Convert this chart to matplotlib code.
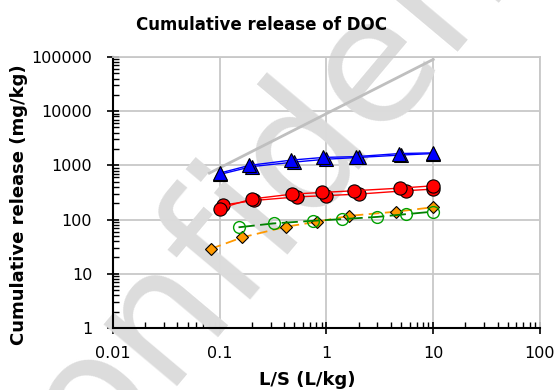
import numpy as np
import matplotlib
matplotlib.use("Agg")
import matplotlib.pyplot as plt
from matplotlib.ticker import LogLocator, FixedLocator, NullFormatter

# maximum possible release (gray reference line)
max_x = [0.08, 10]
max_y = [720, 90000]

# blue triangles, two replicates
blue_x1 = [0.1, 0.19, 0.47, 0.93, 1.9, 4.8, 10]
blue_y1 = [720, 1000, 1250, 1400, 1450, 1650, 1700]
blue_x2 = [0.1, 0.2, 0.5, 1.0, 2.0, 5.0, 10]
blue_y2 = [680, 950, 1150, 1300, 1400, 1550, 1650]

# red circles, two replicates
red_x1 = [0.1, 0.2, 0.48, 0.9, 1.8, 4.9, 10]
red_y1 = [160, 240, 295, 316, 340, 380, 420]
red_x2 = [0.107, 0.21, 0.53, 1.0, 2.0, 5.5, 10]
red_y2 = [185, 225, 262, 277, 295, 340, 365]

# orange diamonds
orange_x = [0.082, 0.163, 0.42, 0.81, 1.63, 4.5, 10]
orange_y = [28.7, 47, 74, 91, 117, 140, 169]

# green open circles
green_x = [0.15, 0.32, 0.75, 1.4, 3.0, 5.6, 10]
green_y = [72, 85, 95, 102, 112, 126, 140]

fig = plt.figure(figsize=(5.56, 3.9), dpi=100)
ax = fig.add_axes([0.2032, 0.159, 0.768, 0.695])

# watermark behind the data
ax.text(0.585, 0.685, "confidential", transform=fig.transFigure,
        fontsize=125, color="#dcdcdc", rotation=50, ha="center",
        va="center", zorder=1, clip_on=False)

ax.plot(max_x, max_y, color="#bfbfbf", lw=2, zorder=2)

ax.plot(blue_x1, blue_y1, color="#0000ff", lw=1, marker="^", ms=10,
        mfc="#0000ff", mec="black", mew=0.8, zorder=4)
ax.plot(blue_x2, blue_y2, color="#0000ff", lw=1, marker="^", ms=10,
        mfc="#0000ff", mec="black", mew=0.8, zorder=3)

ax.plot(red_x2, red_y2, color="#ff0000", lw=1, marker="o", ms=9.5,
        mfc="#ff0000", mec="black", mew=0.8, zorder=3)
ax.plot(red_x1, red_y1, color="#ff0000", lw=1, marker="o", ms=9.5,
        mfc="#ff0000", mec="black", mew=0.8, zorder=4)

ax.plot(orange_x, orange_y, color="#ff9900", lw=1.3, ls=(0, (6, 3)),
        marker="D", ms=6.5, mfc="#ff9900", mec="black", mew=0.8, zorder=4)
ax.plot(green_x, green_y, color="#008000", lw=1.3, ls=(0, (9, 3)),
        marker="o", ms=8.5, mfc="none", mec="#00a000", mew=1, zorder=4)

ax.set_xscale("log")
ax.set_yscale("log")
ax.set_xlim(0.01, 100)
ax.set_ylim(1, 100000)

ax.xaxis.set_major_locator(FixedLocator([0.01, 0.1, 1, 10, 100]))
ax.yaxis.set_major_locator(FixedLocator([1, 10, 100, 1000, 10000, 100000]))
ax.xaxis.set_minor_locator(LogLocator(base=10, subs=np.arange(2, 10), numticks=20))
ax.yaxis.set_minor_locator(LogLocator(base=10, subs=np.arange(2, 10), numticks=20))
ax.xaxis.set_minor_formatter(NullFormatter())
ax.yaxis.set_minor_formatter(NullFormatter())
ax.set_xticklabels(["0.01", "0.1", "1", "10", "100"])
ax.set_yticklabels(["1", "10", "100", "1000", "10000", "100000"])

ax.tick_params(which="major", direction="inout", length=8, width=1.2,
               labelsize=11.5, colors="black")
ax.tick_params(axis="y", which="major", pad=11)
ax.tick_params(axis="x", which="major", pad=9)
ax.tick_params(which="minor", direction="in", length=4, width=1)
ax.grid(True, which="major", color="#c8c8c8", lw=1.3)
ax.set_axisbelow(True)
ax.set_facecolor("none")

for s in ["top", "right"]:
    ax.spines[s].set_color("#c8c8c8")
    ax.spines[s].set_linewidth(1.3)
for s in ["left", "bottom"]:
    ax.spines[s].set_color("black")
    ax.spines[s].set_linewidth(1.5)

fig.text(0.471, 0.935, "Cumulative release of DOC", fontsize=12,
         fontweight="bold", ha="center", va="center")
fig.text(0.552, 0.026, "L/S (L/kg)", fontsize=13, fontweight="bold",
         ha="center", va="center")
fig.text(0.034, 0.475, "Cumulative release (mg/kg)", fontsize=13,
         fontweight="bold", ha="center", va="center", rotation=90)

fig.savefig("out.png", dpi=100)
